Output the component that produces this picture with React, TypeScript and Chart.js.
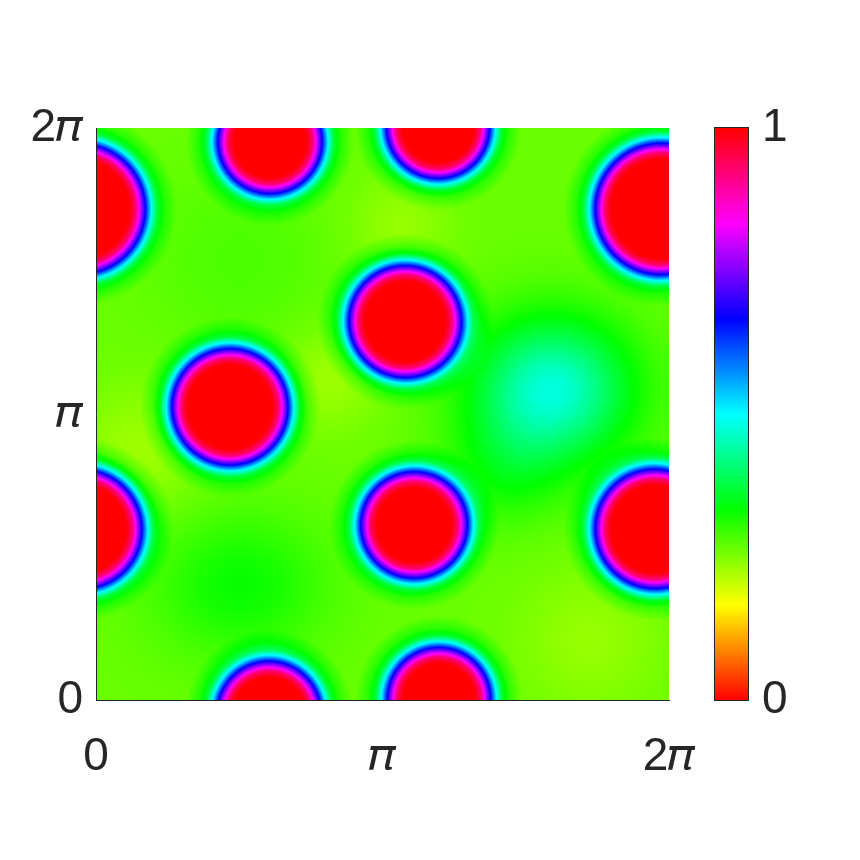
import React, { useEffect, useRef } from "react";
import { Chart, registerables } from "chart.js";

Chart.register(...registerables);

const TWO_PI = 2 * Math.PI;

// Axis ticks
const AXIS_TICK_VALUES = [0, Math.PI, TWO_PI];
const AXIS_TICK_LABELS = ["0", "\u{1D70B}", "2\u{1D70B}"];
const CB_TICK_VALUES = [0, 1];
const CB_TICK_LABELS = ["0", "1"];

// Spots (centre x, centre y, radius of the saturated core), in radians
const SPOT_X = [-0.175, 6.196, -0.154, 6.13, 1.908, 1.897, 3.75, 3.761, 3.389, 1.469, 3.487];
const SPOT_Y = [5.394, 5.394, 1.878, 1.878, 6.135, -0.148, 6.294, 0.011, 4.158, 3.219, 1.922];
const SPOT_R = [0.572, 0.578, 0.513, 0.512, 0.428, 0.428, 0.423, 0.423, 0.472, 0.495, 0.44];

// Radial profile of a spot: distance beyond the core edge -> fraction toward 1
const RING_OFFSET = [-0.033, 0, 0.044, 0.077, 0.143, 0.208, 0.274, 0.351, 0.494];
const RING_LEVEL = [1, 0.96, 0.89, 0.77, 0.55, 0.32, 0.135, 0.06, 0];

// Background level and its smooth variations
const BASE_LEVEL = 0.265;
const BUMP_X = [5.0, 1.579, 4.485, 1.579, 0.483, 2.566, 3.334, 5.417];
const BUMP_Y = [3.405, 1.263, 2.527, 4.833, 2.746, 3.515, 5.218, 0.659];
const BUMP_SX = [0.603, 0.66, 0.44, 0.66, 0.49, 0.38, 0.38, 0.55];
const BUMP_SY = [0.549, 0.55, 0.44, 0.66, 0.49, 0.38, 0.38, 0.55];
const BUMP_AMP = [0.21, 0.065, 0.05, 0.02, -0.035, -0.035, -0.03, -0.03];

const TEXT_COLOR = "#262626";

function hsvColor(v: number): [number, number, number] {
  const c = Math.max(0, Math.min(1, v));
  const h = c * 6;
  const i = Math.floor(h);
  const f = h - i;
  if (i >= 6) return [255, 0, 0];
  let r = 0, g = 0, b = 0;
  switch (i) {
    case 0: r = 1; g = f; b = 0; break;
    case 1: r = 1 - f; g = 1; b = 0; break;
    case 2: r = 0; g = 1; b = f; break;
    case 3: r = 0; g = 1 - f; b = 1; break;
    case 4: r = f; g = 0; b = 1; break;
    default: r = 1; g = 0; b = 1 - f; break;
  }
  return [Math.round(r * 255), Math.round(g * 255), Math.round(b * 255)];
}

function ringLevel(t: number): number {
  const n = RING_OFFSET.length;
  if (t <= RING_OFFSET[0]) return RING_LEVEL[0];
  if (t >= RING_OFFSET[n - 1]) return RING_LEVEL[n - 1];
  for (let k = 1; k < n; k++) {
    if (t <= RING_OFFSET[k]) {
      const a = (t - RING_OFFSET[k - 1]) / (RING_OFFSET[k] - RING_OFFSET[k - 1]);
      return RING_LEVEL[k - 1] + a * (RING_LEVEL[k] - RING_LEVEL[k - 1]);
    }
  }
  return 0;
}

function fieldValue(x: number, y: number): number {
  let bg = BASE_LEVEL;
  for (let k = 0; k < BUMP_X.length; k++) {
    const dx = (x - BUMP_X[k]) / BUMP_SX[k];
    const dy = (y - BUMP_Y[k]) / BUMP_SY[k];
    bg += BUMP_AMP[k] * Math.exp(-0.5 * (dx * dx + dy * dy));
  }
  let u = 0;
  const maxOff = RING_OFFSET[RING_OFFSET.length - 1];
  for (let k = 0; k < SPOT_X.length; k++) {
    const d = Math.hypot(x - SPOT_X[k], y - SPOT_Y[k]) - SPOT_R[k];
    if (d < maxOff) u = Math.max(u, ringLevel(d));
  }
  return bg + (1 - bg) * u;
}

const heatmapPlugin = {
  id: "heatmapField",
  beforeDraw(chart: any) {
    const { ctx, chartArea, scales } = chart;
    const xs = scales.x;
    const ys = scales.y;
    const cb = scales.cb;
    const left = Math.round(chartArea.left);
    const top = Math.round(chartArea.top);
    const w = Math.round(chartArea.right) - left;
    const h = Math.round(chartArea.bottom) - top;
    const img = ctx.createImageData(w, h);
    const xv: number[] = [];
    for (let i = 0; i < w; i++) xv.push(xs.getValueForPixel(left + i + 0.5));
    for (let j = 0; j < h; j++) {
      const y = ys.getValueForPixel(top + j + 0.5);
      for (let i = 0; i < w; i++) {
        const [r, g, b] = hsvColor(fieldValue(xv[i], y));
        const idx = (j * w + i) * 4;
        img.data[idx] = r;
        img.data[idx + 1] = g;
        img.data[idx + 2] = b;
        img.data[idx + 3] = 255;
      }
    }
    ctx.putImageData(img, left, top);

    // colour bar
    const cbLeft = Math.round(chartArea.right) + 46;
    const cbWidth = 33;
    const cbTop = Math.round(cb.top);
    const cbBottom = Math.round(cb.bottom);
    ctx.save();
    for (let py = cbTop; py < cbBottom; py++) {
      const [r, g, b] = hsvColor(cb.getValueForPixel(py + 0.5));
      ctx.fillStyle = `rgb(${r},${g},${b})`;
      ctx.fillRect(cbLeft, py, cbWidth, 1);
    }
    ctx.strokeStyle = TEXT_COLOR;
    ctx.lineWidth = 1;
    ctx.strokeRect(cbLeft - 0.5, cbTop - 0.5, cbWidth + 1, cbBottom - cbTop + 1);
    ctx.restore();
  },
};

const sansFont = { family: "'Liberation Sans', 'DejaVu Serif', serif", size: 46 };

export default function App() {
  const canvasRef = useRef<HTMLCanvasElement | null>(null);

  useEffect(() => {
    if (!canvasRef.current) return;
    const chart = new Chart(canvasRef.current, {
      type: "scatter",
      data: {
        datasets: [
          {
            data: SPOT_X.map((x, i) => ({ x, y: SPOT_Y[i] })),
            pointRadius: 0,
            pointHoverRadius: 0,
            showLine: false,
          },
        ],
      },
      options: {
        animation: false,
        responsive: true,
        maintainAspectRatio: false,
        layout: { padding: { top: 128, left: 0, right: 0, bottom: 0 } },
        plugins: { legend: { display: false }, tooltip: { enabled: false } },
        scales: {
          x: {
            type: "linear",
            position: "bottom",
            min: 0,
            max: TWO_PI,
            afterBuildTicks: (s: any) => {
              s.ticks = AXIS_TICK_VALUES.map((value) => ({ value }));
            },
            afterFit: (s: any) => {
              s.height = 160;
            },
            ticks: {
              callback: (_v: any, i: number) => AXIS_TICK_LABELS[i],
              font: sansFont,
              color: TEXT_COLOR,
              padding: 30,
              maxRotation: 0,
              autoSkip: false,
            },
            grid: { display: false, drawTicks: false },
            border: { display: true, color: TEXT_COLOR, width: 1 },
          },
          y: {
            type: "linear",
            position: "left",
            min: 0,
            max: TWO_PI,
            afterBuildTicks: (s: any) => {
              s.ticks = AXIS_TICK_VALUES.map((value) => ({ value }));
            },
            afterFit: (s: any) => {
              s.width = 96;
            },
            ticks: {
              callback: (_v: any, i: number) => AXIS_TICK_LABELS[i],
              font: sansFont,
              color: TEXT_COLOR,
              padding: 13,
              autoSkip: false,
            },
            grid: { display: false, drawTicks: false },
            border: { display: true, color: TEXT_COLOR, width: 1 },
          },
          cb: {
            type: "linear",
            position: "right",
            min: 0,
            max: 1,
            afterBuildTicks: (s: any) => {
              s.ticks = CB_TICK_VALUES.map((value) => ({ value }));
            },
            afterFit: (s: any) => {
              s.width = 191;
            },
            ticks: {
              callback: (_v: any, i: number) => CB_TICK_LABELS[i],
              font: sansFont,
              color: TEXT_COLOR,
              padding: 93,
              autoSkip: false,
            },
            grid: { display: false, drawTicks: false },
            border: { display: false },
          },
        },
      },
      plugins: [heatmapPlugin],
    } as any);
    return () => chart.destroy();
  }, []);

  return (
    <div style={{ position: "fixed", left: 0, top: 0, width: 860, height: 860, background: "#ffffff" }}>
      <canvas ref={canvasRef} />
    </div>
  );
}
